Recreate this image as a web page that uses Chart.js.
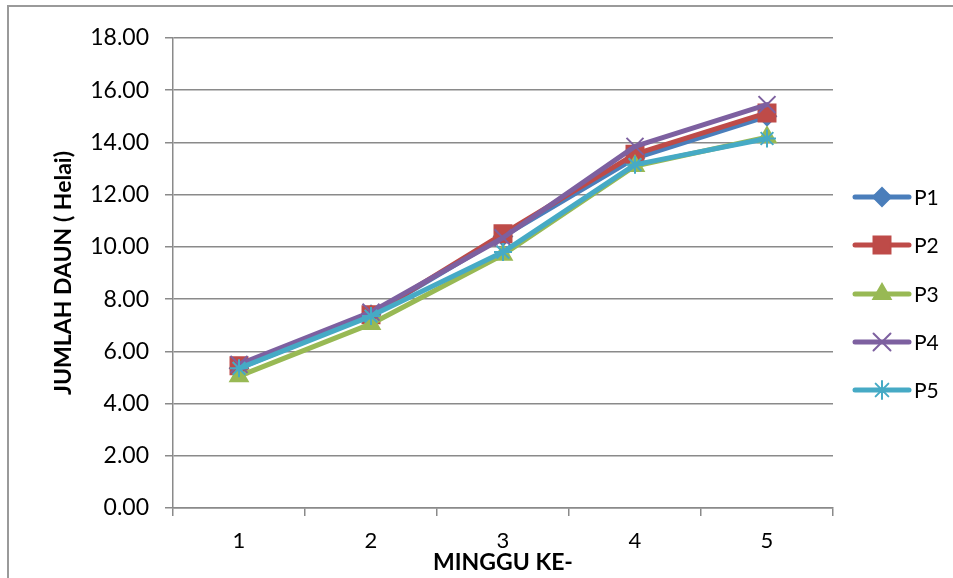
<!DOCTYPE html>
<html>
<head>
<meta charset="utf-8">
<script src="https://cdn.jsdelivr.net/npm/chart.js@4.4.1/dist/chart.umd.min.js"></script>
<style>
  html, body { margin: 0; padding: 0; background: #fff; overflow: hidden; }
  #frame {
    position: absolute; left: 7px; top: 5px; width: 960px; height: 600px;
    border-left: 2px solid #9a9a9a; border-top: 2px solid #9a9a9a;
  }
  #chart { position: absolute; left: 0; top: 0; }
  #legend { position: absolute; left: 852px; top: 0; font-family: Lato, sans-serif; font-size: 21px; color: #000; }
  .legend-item { position: absolute; left: 0; height: 26px; white-space: nowrap; }
  .legend-item canvas { position: absolute; left: 0; top: 0; }
  .legend-item span { position: absolute; left: 62px; top: 0; line-height: 26px; }
</style>
</head>
<body>
<div id="frame"></div>
<canvas id="chart" width="953" height="578"></canvas>
<div id="legend"></div>
<script>
// data
const weeks = ['1', '2', '3', '4', '5'];
const p1 = [5.35, 7.40, 10.40, 13.40, 15.00];
const p2 = [5.45, 7.40, 10.50, 13.55, 15.13];
const p3 = [5.05, 7.05, 9.70, 13.10, 14.20];
const p4 = [5.50, 7.50, 10.35, 13.85, 15.45];
const p5 = [5.35, 7.35, 9.80, 13.15, 14.15];
const seriesNames = ['P1', 'P2', 'P3', 'P4', 'P5'];
const xTitle = 'MINGGU KE-';
const yTitle = 'JUMLAH DAUN ( Helai)';

const colors = ['#4A7EBB', '#BE4B48', '#98B954', '#7D60A0', '#46AAC5'];
const styles = ['rectRot', 'rect', 'triangle', 'crossRot', 'star'];
const radii = [9, 12, 10, 12, 9];
const values = [p1, p2, p3, p4, p5];

// legend icon: short line with the marker in the middle
function makeIcon(i) {
    const c = document.createElement('canvas');
    c.width = 60;
    c.height = 26;
    const ctx = c.getContext('2d');
    ctx.strokeStyle = colors[i];
    ctx.fillStyle = colors[i];
    ctx.lineCap = 'round';
    ctx.lineWidth = 5;
    ctx.beginPath();
    ctx.moveTo(3, 13);
    ctx.lineTo(57, 13);
    ctx.stroke();
    ctx.lineWidth = 2;
    Chart.helpers.drawPoint(ctx, {pointStyle: styles[i], radius: radii[i], rotation: 0, borderWidth: 2}, 30, 13);
    return c;
}

function buildLegend() {
    const box = document.getElementById('legend');
    seriesNames.forEach((name, i) => {
        const row = document.createElement('div');
        row.className = 'legend-item';
        row.style.top = (184 + i * 48.3) + 'px';
        row.appendChild(makeIcon(i));
        const label = document.createElement('span');
        label.textContent = name;
        row.appendChild(label);
        box.appendChild(row);
    });
}

const datasets = seriesNames.map((name, i) => ({
    label: name,
    data: values[i],
    borderColor: colors[i],
    backgroundColor: colors[i],
    borderWidth: 5,
    borderCapStyle: 'round',
    borderJoinStyle: 'round',
    pointStyle: styles[i],
    pointRadius: radii[i],
    pointHoverRadius: radii[i],
    pointBackgroundColor: colors[i],
    pointBorderColor: colors[i],
    pointBorderWidth: 2,
    fill: false,
    tension: 0,
    order: seriesNames.length - i
}));

const gridColor = '#8a8a8a';

new Chart(document.getElementById('chart').getContext('2d'), {
    type: 'line',
    data: { labels: weeks, datasets },
    options: {
        responsive: false,
        animation: false,
        layout: { padding: { top: 38, left: 0, right: 120, bottom: 0 } },
        plugins: {
            tooltip: { enabled: false },
            legend: { display: false }
        },
        scales: {
            x: {
                offset: true,
                afterFit(scale) { scale.height = 70; },
                grid: { drawOnChartArea: false, drawTicks: true, tickLength: 8, color: gridColor, lineWidth: 1.5, offset: true },
                border: { color: gridColor, width: 1.5 },
                ticks: { color: '#000', font: { family: 'Lato', size: 22 }, padding: 12, maxRotation: 0 },
                title: { display: true, text: xTitle, color: '#000', font: { family: 'Lato', size: 23, weight: 'bold' }, padding: { top: 0, bottom: 2 } }
            },
            y: {
                min: 0,
                max: 18,
                afterFit(scale) { scale.width = 173; },
                grid: { drawTicks: true, tickLength: 8, color: gridColor, lineWidth: 1.5 },
                border: { color: gridColor, width: 1.5 },
                ticks: {
                    stepSize: 2,
                    color: '#000',
                    font: { family: 'Lato', size: 23 },
                    padding: 16,
                    callback: v => v.toFixed(2)
                },
                title: { display: true, text: yTitle, color: '#000', font: { family: 'Lato', size: 23, weight: 'bold' }, padding: { top: 50, bottom: 0 } }
            }
        }
    }
});

buildLegend();
</script>
</body>
</html>
